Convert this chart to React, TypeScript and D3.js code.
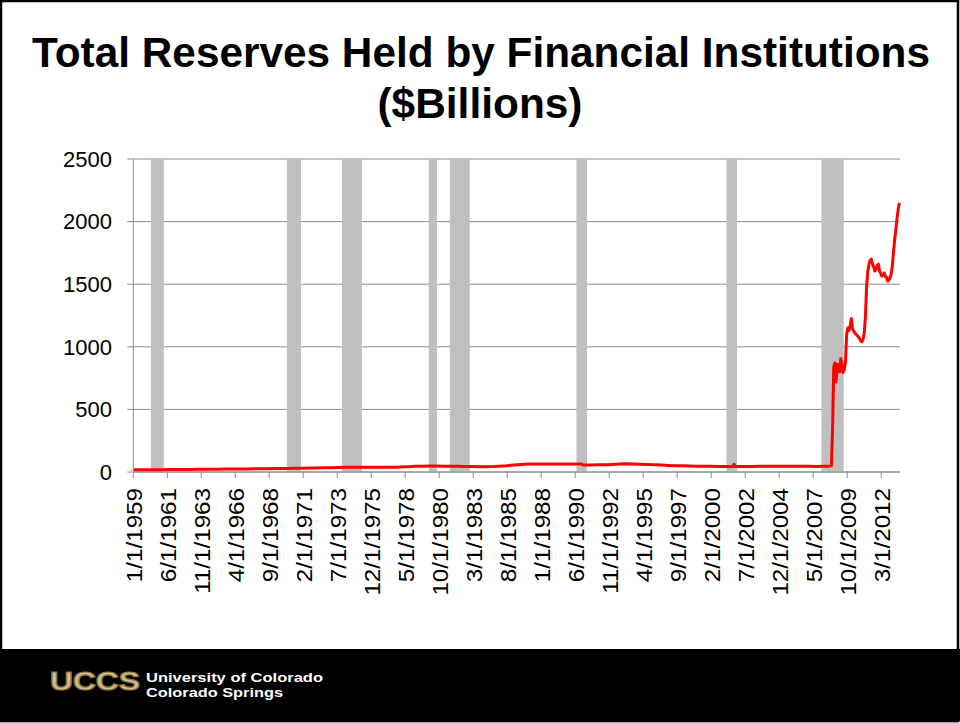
import React from "react";
import * as d3 from "d3";

const TITLE_LINES = ["Total Reserves Held by Financial Institutions", "($Billions)"];
const Y_TICKS = [0, 500, 1000, 1500, 2000, 2500];
const X_TICK_LABELS = [
  "1/1/1959", "6/1/1961", "11/1/1963", "4/1/1966", "9/1/1968", "2/1/1971",
  "7/1/1973", "12/1/1975", "5/1/1978", "10/1/1980", "3/1/1983", "8/1/1985",
  "1/1/1988", "6/1/1990", "11/1/1992", "4/1/1995", "9/1/1997", "2/1/2000",
  "7/1/2002", "12/1/2004", "5/1/2007", "10/1/2009", "3/1/2012",
];
const FIRST_MONTH = "1959-01";
const LAST_MONTH = "2013-06";

const RECESSION_STARTS = ["1960-04", "1969-12", "1973-11", "1980-01", "1981-07", "1990-07", "2001-03", "2007-12"];
const RECESSION_ENDS = ["1961-02", "1970-11", "1975-03", "1980-07", "1982-11", "1991-03", "2001-11", "2009-06"];

const RESERVE_MONTHS = [
  "1959-01", "1959-07", "1960-01", "1960-07", "1961-01", "1961-07", "1962-01", "1962-07",
  "1963-01", "1963-07", "1964-01", "1964-07", "1965-01", "1965-07", "1966-01", "1966-07",
  "1967-01", "1967-07", "1968-01", "1968-07", "1969-01", "1969-07", "1970-01", "1970-07",
  "1971-01", "1971-07", "1972-01", "1972-07", "1973-01", "1973-07", "1974-01", "1974-07",
  "1975-01", "1975-07", "1976-01", "1976-07", "1977-01", "1977-07", "1978-01", "1978-07",
  "1979-01", "1979-07", "1980-01", "1980-07", "1981-01", "1981-07", "1982-01", "1982-07",
  "1983-01", "1983-07", "1984-01", "1984-07", "1985-01", "1985-07", "1986-01", "1986-07",
  "1987-01", "1987-07", "1988-01", "1988-07", "1989-01", "1989-07", "1990-01", "1990-07",
  "1990-11", "1990-12", "1991-01", "1991-07", "1992-01", "1992-07", "1993-01", "1993-07",
  "1994-01", "1994-07", "1995-01", "1995-07", "1996-01", "1996-07", "1997-01", "1997-07",
  "1998-01", "1998-07", "1999-01", "1999-07", "2000-01", "2000-07", "2001-01", "2001-07",
  "2001-08", "2001-09", "2001-10", "2002-01", "2002-07", "2003-01", "2003-07", "2004-01",
  "2004-07", "2005-01", "2005-07", "2006-01", "2006-07", "2007-01", "2007-07", "2008-01",
  "2008-04", "2008-07", "2008-08", "2008-09", "2008-10", "2008-11", "2008-12",
  "2009-01", "2009-02", "2009-03", "2009-04", "2009-05", "2009-06", "2009-07", "2009-08",
  "2009-09", "2009-10", "2009-11", "2009-12", "2010-01", "2010-02", "2010-03", "2010-04",
  "2010-05", "2010-06", "2010-07", "2010-08", "2010-09", "2010-10", "2010-11", "2010-12",
  "2011-01", "2011-02", "2011-03", "2011-04", "2011-05", "2011-06", "2011-07", "2011-08",
  "2011-09", "2011-10", "2011-11", "2011-12", "2012-01", "2012-02", "2012-03", "2012-04",
  "2012-05", "2012-06", "2012-07", "2012-08", "2012-09", "2012-10", "2012-11", "2012-12",
  "2013-01", "2013-02", "2013-03", "2013-04", "2013-05", "2013-06",
];
const RESERVE_VALUES = [
  17, 17, 18, 18, 18, 19, 19, 20,
  20, 21, 21, 22, 22, 23, 23, 24,
  24, 25, 26, 26, 27, 27, 28, 29,
  30, 31, 32, 33, 34, 36, 37, 38,
  38, 37, 37, 37, 38, 38, 40, 42,
  45, 46, 47, 47, 46, 45, 46, 44,
  43, 42, 42, 43, 46, 50, 56, 60,
  63, 63, 64, 64, 64, 63, 64, 64,
  64, 57, 55, 56, 58, 57, 60, 63,
  65, 64, 62, 60, 58, 55, 52, 50,
  49, 47, 46, 45, 46, 43, 43, 43,
  43, 62, 44, 44, 43, 44, 45, 46,
  45, 46, 45, 45, 45, 45, 44, 45,
  46, 47, 50, 350, 840, 870, 720,
  860, 850, 800, 905, 850, 795, 820, 880,
  1100, 1150, 1130, 1170, 1225, 1140, 1125, 1110,
  1100, 1090, 1080, 1065, 1045, 1040, 1060, 1110,
  1240, 1480, 1600, 1660, 1690, 1700, 1660, 1640,
  1605, 1620, 1650, 1660, 1610, 1585, 1565, 1575,
  1590, 1560, 1555, 1525, 1530, 1550, 1580, 1650,
  1760, 1860, 1940, 2030, 2100, 2150,
];

const W = 960;
const H = 723;
const FONT = "'Liberation Sans', Arial, sans-serif";

function monthIndex(s: string): number {
  const [y, m] = s.split("-").map(Number);
  const [y0, m0] = FIRST_MONTH.split("-").map(Number);
  return (y - y0) * 12 + (m - m0);
}
function labelIndex(s: string): number {
  const [m, , y] = s.split("/").map(Number);
  return monthIndex(`${y}-${String(m).padStart(2, "0")}`);
}

export default function App() {
  const nMonths = monthIndex(LAST_MONTH) + 1;
  const plot = { left: 133.3, right: 900, top: 159, bottom: 472 };
  const x = d3.scaleLinear().domain([0, nMonths]).range([plot.left, plot.right]);
  const y = d3.scaleLinear().domain([0, 2500]).range([plot.bottom, plot.top]);

  const series = RESERVE_MONTHS.map((m, i) => ({ idx: monthIndex(m), v: RESERVE_VALUES[i] }));
  const line = d3
    .line<{ idx: number; v: number }>()
    .x((d) => x(d.idx + 0.5))
    .y((d) => y(d.v));

  const recessions = RECESSION_STARTS.map((s, i) => ({
    a: monthIndex(s),
    b: monthIndex(RECESSION_ENDS[i]) + 1,
  }));

  const gridColor = "#8c8c8c";

  return (
    <div style={{ position: "fixed", left: 0, top: 0, width: W, height: H, background: "#fff" }}>
      <svg width={W} height={H} viewBox={`0 0 ${W} ${H}`} style={{ display: "block" }}>
        <rect x={0} y={0} width={W} height={H} fill="#fff" />
        {/* title */}
        <text x={481} y={67} textAnchor="middle" fontFamily={FONT} fontWeight="bold" fontSize={42}
          textLength={898} lengthAdjust="spacingAndGlyphs" fill="#000">
          {TITLE_LINES[0]}
        </text>
        <text x={480} y={118} textAnchor="middle" fontFamily={FONT} fontWeight="bold" fontSize={43}
          textLength={205} lengthAdjust="spacingAndGlyphs" fill="#000">
          {TITLE_LINES[1]}
        </text>

        {/* gridlines */}
        {Y_TICKS.map((t) => (
          <line key={t} x1={plot.left - 6} x2={plot.right} y1={y(t)} y2={y(t)} stroke={gridColor} strokeWidth={1} />
        ))}
        {/* recession bars */}
        {recessions.map((r, i) => (
          <rect key={i} x={x(r.a)} y={plot.top} width={x(r.b) - x(r.a)} height={plot.bottom - plot.top} fill="#bfbfbf" />
        ))}
        {/* axes */}
        <line x1={plot.left} x2={plot.left} y1={plot.top} y2={plot.bottom} stroke={gridColor} strokeWidth={1} />
        <line x1={plot.left} x2={plot.right} y1={plot.bottom} y2={plot.bottom} stroke={gridColor} strokeWidth={1} />
        {X_TICK_LABELS.map((l) => {
          const xi = x(labelIndex(l));
          return (
            <g key={l}>
              <line x1={xi} x2={xi} y1={plot.bottom} y2={plot.bottom + 6} stroke={gridColor} strokeWidth={1} />
              <text transform={`translate(${xi + 1},${plot.bottom + 16}) rotate(-90) scale(1.1,1)`}
                textAnchor="end" dy="0.35em" fontFamily={FONT} fontSize={22} fill="#000">
                {l}
              </text>
            </g>
          );
        })}
        {Y_TICKS.map((t) => (
          <text key={t} x={112} y={y(t)} dy="0.35em" textAnchor="end" fontFamily={FONT} fontSize={22} fill="#000">
            {t}
          </text>
        ))}

        {/* series */}
        <path d={line(series) || ""} fill="none" stroke="#ff0000" strokeWidth={3} strokeLinejoin="round" />

        {/* footer */}
        <rect x={0} y={649} width={W} height={72} fill="#000" />
        <rect x={0} y={721} width={W} height={2} fill="#d9d9d9" />
        <text x={50} y={690} fontFamily={FONT} fontWeight={900} fontSize={25} textLength={90}
          lengthAdjust="spacingAndGlyphs" fill="#d2c18e" stroke="#8a7640" strokeWidth={1.2}>
          UCCS
        </text>
        <text x={146} y={682} fontFamily={FONT} fontSize={13} fontWeight="bold" textLength={177}
          lengthAdjust="spacingAndGlyphs" fill="#fff">
          University of Colorado
        </text>
        <text x={146} y={697} fontFamily={FONT} fontSize={13} fontWeight="bold" textLength={137}
          lengthAdjust="spacingAndGlyphs" fill="#fff">
          Colorado Springs
        </text>
        {/* slide frame */}
        <rect x={1} y={1} width={W - 3} height={H - 3} fill="none" stroke="#000" strokeWidth={2.5} />
      </svg>
    </div>
  );
}
